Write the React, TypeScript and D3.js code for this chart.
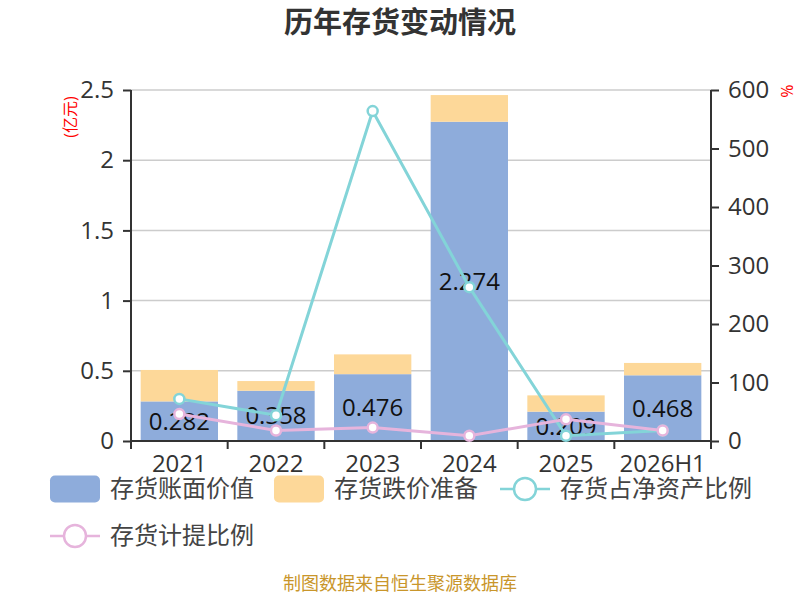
import * as d3 from "d3";
import React, { useEffect, useRef } from 'react'

const categories = ['2021', '2022', '2023', '2024', '2025', '2026H1']
const bookValue = [0.282, 0.358, 0.476, 2.274, 0.209, 0.468]
const reserve = [0.224, 0.069, 0.141, 0.19, 0.116, 0.088]
const netAssetRatio = [72, 44, 564, 263, 9, 18]
const provisionRatio = [46, 18, 23, 9, 37, 18]
const leftTicks = [0, 0.5, 1, 1.5, 2, 2.5]
const rightTicks = [0, 100, 200, 300, 400, 500, 600]

const BLUE = '#8eacdb'
const ORANGE = '#fdd899'
const CYAN = '#83d4d8'
const PINK = '#e6b4dc'
const FONT = '"Open Sans", "Noto Sans CJK SC", sans-serif'

const plotChart = (el: SVGSVGElement) => {
  const width = 800
  const height = 600
  const left = 131
  const right = 711
  const top = 90
  const bottom = 441

  const svg = d3.select(el)
    .attr('width', width)
    .attr('height', height)
    .style('font-family', FONT)

  const x = d3.scaleBand<string>()
    .domain(categories)
    .range([left, right])
  const yL = d3.scaleLinear().domain([0, 2.5]).range([bottom, top])
  const yR = d3.scaleLinear().domain([0, 600]).range([bottom, top])
  const bw = x.bandwidth() * 0.8
  const cx = (c: string) => (x(c) as number) + x.bandwidth() / 2

  // title
  svg.append('text')
    .attr('x', width / 2).attr('y', 23)
    .attr('dy', '0.35em')
    .attr('text-anchor', 'middle')
    .attr('font-size', 29).attr('font-weight', 'bold')
    .attr('fill', '#333')
    .text('历年存货变动情况')

  // grid
  svg.append('g').selectAll('line')
    .data(leftTicks.filter(t => t > 0))
    .enter().append('line')
    .attr('x1', left).attr('x2', right)
    .attr('y1', d => yL(d)).attr('y2', d => yL(d))
    .attr('stroke', '#ccc').attr('stroke-width', 1.5)

  // bars
  const bars = svg.append('g')
  bars.selectAll('rect.base')
    .data(categories)
    .enter().append('rect')
    .attr('x', d => cx(d) - bw / 2)
    .attr('width', bw)
    .attr('y', (d, i) => yL(bookValue[i]))
    .attr('height', (d, i) => yL(0) - yL(bookValue[i]))
    .attr('fill', BLUE)
  bars.selectAll('rect.res')
    .data(categories)
    .enter().append('rect')
    .attr('x', d => cx(d) - bw / 2)
    .attr('width', bw)
    .attr('y', (d, i) => yL(bookValue[i] + reserve[i]))
    .attr('height', (d, i) => yL(bookValue[i]) - yL(bookValue[i] + reserve[i]))
    .attr('fill', ORANGE)

  // bar labels
  svg.append('g').selectAll('text')
    .data(categories)
    .enter().append('text')
    .attr('x', d => cx(d))
    .attr('y', (d, i) => (yL(0) + yL(bookValue[i])) / 2)
    .attr('dy', '0.35em')
    .attr('text-anchor', 'middle')
    .attr('font-size', 24)
    .attr('fill', '#111')
    .text((d, i) => String(bookValue[i]))

  // axes
  const axL = svg.append('g')
    .attr('transform', `translate(${left},0)`)
    .call(d3.axisLeft(yL).tickValues(leftTicks).tickSize(8).tickPadding(9).tickFormat(d => String(d)))
  const axR = svg.append('g')
    .attr('transform', `translate(${right},0)`)
    .call(d3.axisRight(yR).tickValues(rightTicks).tickSize(8).tickPadding(9).tickFormat(d => String(d)))
  const axB = svg.append('g')
    .attr('transform', `translate(0,${bottom})`)
    .call(d3.axisBottom(x).tickSize(0).tickPadding(14))
  axB.selectAll('.tick').append('line')
    .attr('x1', -x.bandwidth() / 2).attr('x2', -x.bandwidth() / 2)
    .attr('y1', 0).attr('y2', 8)
  axB.append('line')
    .attr('x1', right).attr('x2', right).attr('y1', 0).attr('y2', 8)
  ;[axL, axR, axB].forEach(a => {
    a.selectAll('path, line').attr('stroke', '#333').attr('stroke-width', 2)
    a.select('.domain').attr('d', null)
    a.selectAll('text').attr('font-size', 24).attr('fill', '#333').attr('font-family', FONT)
  })
  axL.append('line').attr('x1', 0).attr('x2', 0).attr('y1', top).attr('y2', bottom + 8).attr('stroke', '#333').attr('stroke-width', 2)
  axR.append('line').attr('x1', 0).attr('x2', 0).attr('y1', top).attr('y2', bottom + 8).attr('stroke', '#333').attr('stroke-width', 2)
  axB.append('line').attr('x1', left).attr('x2', right).attr('y1', 0).attr('y2', 0).attr('stroke', '#333').attr('stroke-width', 2)

  // unit labels
  svg.append('text')
    .attr('transform', `translate(70,117) rotate(-90)`)
    .attr('text-anchor', 'middle').attr('dy', '0.35em')
    .attr('font-size', 16).attr('fill', 'red')
    .text('(亿元)')
  svg.append('text')
    .attr('transform', `translate(787,91) rotate(90)`)
    .attr('text-anchor', 'middle').attr('dy', '0.35em')
    .attr('font-size', 16).attr('fill', 'red')
    .text('%')

  // lines
  const series = [
    { values: netAssetRatio, color: CYAN },
    { values: provisionRatio, color: PINK },
  ]
  series.forEach(s => {
    const line = d3.line<number>()
      .x((d, i) => cx(categories[i]))
      .y(d => yR(d))
    svg.append('path')
      .attr('d', line(s.values))
      .attr('fill', 'none')
      .attr('stroke', s.color)
      .attr('stroke-width', 3)
    svg.append('g').selectAll('circle')
      .data(s.values)
      .enter().append('circle')
      .attr('cx', (d, i) => cx(categories[i]))
      .attr('cy', d => yR(d))
      .attr('r', 5)
      .attr('fill', '#fff')
      .attr('stroke', s.color)
      .attr('stroke-width', 2.5)
  })

  // legend
  const legend = svg.append('g').attr('font-size', 24).attr('fill', '#444')
  const legItems = [
    { label: '存货账面价值', type: 'rect', color: BLUE, x: 50, y: 489 },
    { label: '存货跌价准备', type: 'rect', color: ORANGE, x: 274, y: 489 },
    { label: '存货占净资产比例', type: 'line', color: CYAN, x: 500, y: 489 },
    { label: '存货计提比例', type: 'line', color: PINK, x: 50, y: 536 },
  ]
  legItems.forEach(it => {
    if (it.type === 'rect') {
      legend.append('rect')
        .attr('x', it.x).attr('y', it.y - 13.5)
        .attr('width', 50).attr('height', 27).attr('rx', 5)
        .attr('fill', it.color)
    } else {
      legend.append('line')
        .attr('x1', it.x).attr('x2', it.x + 50)
        .attr('y1', it.y).attr('y2', it.y)
        .attr('stroke', it.color).attr('stroke-width', 2.5)
      legend.append('circle')
        .attr('cx', it.x + 25).attr('cy', it.y).attr('r', 11)
        .attr('fill', '#fff').attr('stroke', it.color).attr('stroke-width', 2.5)
    }
    legend.append('text')
      .attr('x', it.x + 60).attr('y', it.y)
      .attr('dy', '0.35em')
      .attr('fill', '#444')
      .text(it.label)
  })

  // footer
  svg.append('text')
    .attr('x', width / 2).attr('y', 590)
    .attr('text-anchor', 'middle')
    .attr('font-size', 18).attr('fill', '#c9962b')
    .text('制图数据来自恒生聚源数据库')
}

export default function App() {
  const ref = useRef<SVGSVGElement>(null)
  useEffect(() => {
    if (ref.current) {
      d3.select(ref.current).selectAll('*').remove()
      plotChart(ref.current)
    }
  })
  return (
    <svg ref={ref} style={{ position: 'absolute', left: 0, top: 0, background: '#fff' }} />
  )
}
